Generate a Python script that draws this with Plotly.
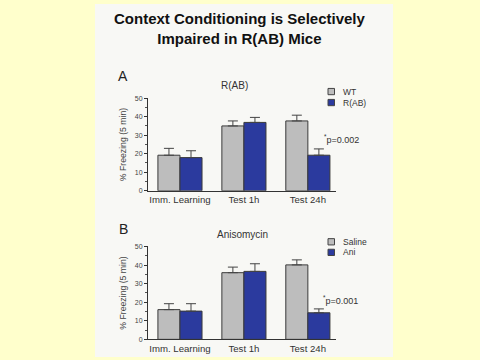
import plotly.graph_objects as go

categories = ["Imm. Learning", "Test 1h", "Test 24h"]
y_ticks = [0, 10, 20, 30, 40, 50]

# Panel A: R(AB)
wt_mean = [19.2, 35.0, 37.7]
wt_err = [3.7, 2.7, 3.1]
rab_mean = [17.9, 36.9, 19.2]
rab_err = [3.7, 2.7, 3.4]

# Panel B: Anisomycin
sal_mean = [16.0, 35.9, 40.1]
sal_err = [3.2, 3.0, 2.7]
ani_mean = [15.2, 36.6, 14.3]
ani_err = [4.0, 4.1, 2.1]

GRAY = "#bdbdbd"
BLUE = "#2b3a9e"
OUTLINE = "#3a3a3a"
FONT = "Liberation Sans, Arial, sans-serif"

W, H = 480, 360
def px(x):
    return x / W
def py(y):
    return (H - y) / H

fig = go.Figure()

def add_bar(name, y, err, color, xa, ya):
    fig.add_trace(go.Bar(
        x=categories, y=y, name=name, xaxis=xa, yaxis=ya, showlegend=False,
        marker=dict(color=color, line=dict(color=OUTLINE, width=1)),
        error_y=dict(type="data", array=err, arrayminus=[0] * len(err), symmetric=False,
                     color="#444444", thickness=1, width=5),
    ))

add_bar("WT", wt_mean, wt_err, GRAY, "x", "y")
add_bar("R(AB)", rab_mean, rab_err, BLUE, "x", "y")
add_bar("Saline", sal_mean, sal_err, GRAY, "x2", "y2")
add_bar("Ani", ani_mean, ani_err, BLUE, "x2", "y2")

xdom = [px(148), px(336)]
ya_dom = [py(190.5), py(96)]
yb_dom = [py(342), py(247.3)]

def xaxis_cfg(anchor):
    return dict(domain=xdom, anchor=anchor, range=[-0.5, 2.44], showline=True,
                linecolor="#333333", linewidth=1, ticks="", showgrid=False, zeroline=False,
                tickfont=dict(family=FONT, size=9.6, color="#333333"), fixedrange=True)

def yaxis_cfg(dom, anchor):
    return dict(domain=dom, anchor=anchor, range=[0, 50], tickvals=y_ticks,
                showline=True, linecolor="#333333", linewidth=1, ticks="outside",
                ticklen=3, tickcolor="#333333", showgrid=False, zeroline=False,
                minor=dict(dtick=5, ticks="outside", ticklen=2, tickcolor="#555555"),
                tickfont=dict(family=FONT, size=7, color="#444444"), fixedrange=True,
                title=dict(text="% Freezing (5 min)", font=dict(family=FONT, size=8.7, color="#444444"),
                           standoff=6))

# Legend swatches (guide, not data) and panel background
legend_items = [("WT", GRAY, 89.3), ("R(AB)", BLUE, 100.5),
                ("Saline", GRAY, 242.5), ("Ani", BLUE, 253.3)]
shapes = [dict(type="rect", xref="paper", yref="paper", x0=px(95), x1=px(393),
               y0=0, y1=1, fillcolor="#f8f8f5", line=dict(width=0), layer="below")]
ann = []
for label, color, yc in legend_items:
    shapes.append(dict(type="rect", xref="paper", yref="paper",
                       x0=px(328), x1=px(334.5), y0=py(yc + 3.2), y1=py(yc - 3.2),
                       fillcolor=color, line=dict(color="#444444", width=1)))
    ann.append(dict(text=label, x=px(340.5), y=py(yc), xanchor="left",
                    font=dict(size=8.5, color="#333333")))

ann += [
    dict(text="<b>Context Conditioning is Selectively<br>Impaired in R(AB) Mice</b>",
         x=0.5, y=py(25), font=dict(size=15, color="#111111")),
    dict(text="A", x=px(123.5), y=py(73), font=dict(size=14, color="#222222")),
    dict(text="B", x=px(123.5), y=py(229), font=dict(size=14, color="#222222")),
    dict(text="R(AB)", x=px(234.5), y=py(83), font=dict(size=10, color="#333333")),
    dict(text="Anisomycin", x=px(242.5), y=py(235), font=dict(size=10, color="#333333")),
    dict(text="<sup>*</sup>p=0.002", x=px(341.5), y=py(137.7), font=dict(size=9, color="#333333")),
    dict(text="<sup>*</sup>p=0.001", x=px(340.5), y=py(302), font=dict(size=9, color="#333333")),
]
for a in ann:
    a.setdefault("xanchor", "center")
    a.update(xref="paper", yref="paper", showarrow=False, yanchor="middle")
    a["font"]["family"] = FONT

fig.update_layout(
    width=W, height=H,
    margin=dict(l=0, r=0, t=0, b=0),
    paper_bgcolor="#ffffcc", plot_bgcolor="rgba(0,0,0,0)",
    barmode="group", bargap=0.31, bargroupgap=0,
    showlegend=False,
    xaxis=xaxis_cfg("y"), yaxis=yaxis_cfg(ya_dom, "x"),
    xaxis2=xaxis_cfg("y2"), yaxis2=yaxis_cfg(yb_dom, "x2"),
    shapes=shapes, annotations=ann,
    font=dict(family=FONT),
)

fig.write_html("out.html", config={"displayModeBar": False},
               post_script="document.body.style.margin='0';document.body.style.background='#ffffcc';")
